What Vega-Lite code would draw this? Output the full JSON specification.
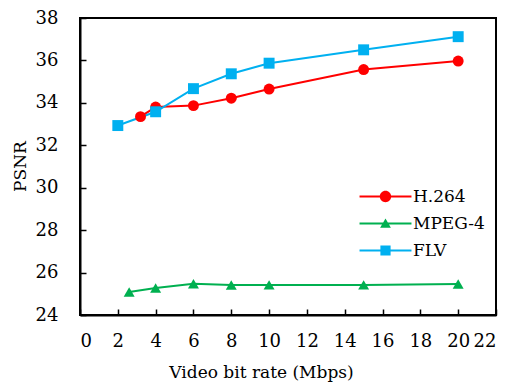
{
  "$schema": "https://vega.github.io/schema/vega-lite/v6.json",
  "width": 416,
  "height": 297,
  "autosize": {"type": "none"},
  "padding": {"left": 80, "top": 18, "right": 11, "bottom": 72},
  "background": "white",
  "config": {
    "font": "DejaVu Serif",
    "view": {"stroke": "black", "strokeWidth": 2},
    "axis": {
      "grid": false,
      "domainColor": "black",
      "domainWidth": 2,
      "tickColor": "black",
      "tickWidth": 1.5,
      "tickSize": -6,
      "labelFont": "DejaVu Serif",
      "labelFontSize": 18,
      "labelColor": "black",
      "titleFont": "DejaVu Serif",
      "titleFontSize": 17,
      "titleColor": "black",
      "titleFontWeight": "normal"
    },
    "legend": {
      "labelFont": "DejaVu Serif",
      "labelFontSize": 17,
      "labelColor": "black",
      "symbolSize": 144,
      "symbolOpacity": 1,
      "symbolStrokeWidth": 0
    }
  },
  "data": {
    "values": [
      {"series": "H.264", "x": 3.2, "y": 33.35},
      {"series": "H.264", "x": 4, "y": 33.8},
      {"series": "H.264", "x": 6, "y": 33.87},
      {"series": "H.264", "x": 8, "y": 34.22},
      {"series": "H.264", "x": 10, "y": 34.65},
      {"series": "H.264", "x": 15, "y": 35.57},
      {"series": "H.264", "x": 20, "y": 35.97},
      {"series": "MPEG-4", "x": 2.6, "y": 25.08},
      {"series": "MPEG-4", "x": 4, "y": 25.27},
      {"series": "MPEG-4", "x": 6, "y": 25.47},
      {"series": "MPEG-4", "x": 8, "y": 25.41},
      {"series": "MPEG-4", "x": 10, "y": 25.42},
      {"series": "MPEG-4", "x": 15, "y": 25.42},
      {"series": "MPEG-4", "x": 20, "y": 25.46},
      {"series": "FLV", "x": 2, "y": 32.93},
      {"series": "FLV", "x": 4, "y": 33.58},
      {"series": "FLV", "x": 6, "y": 34.67},
      {"series": "FLV", "x": 8, "y": 35.37},
      {"series": "FLV", "x": 10, "y": 35.87},
      {"series": "FLV", "x": 15, "y": 36.5},
      {"series": "FLV", "x": 20, "y": 37.12}
    ]
  },
  "encoding": {
    "x": {
      "field": "x",
      "type": "quantitative",
      "scale": {"domain": [0, 22], "nice": false, "zero": false},
      "axis": {
        "values": [0, 2, 4, 6, 8, 10, 12, 14, 16, 18, 20, 22],
        "title": "Video bit rate (Mbps)",
        "labelPadding": 23,
        "titleX": 181,
        "titleY": 57,
        "titleAlign": "center",
        "titleBaseline": "middle"
      }
    },
    "y": {
      "field": "y",
      "type": "quantitative",
      "scale": {"domain": [24, 38], "nice": false, "zero": false},
      "axis": {
        "values": [24, 26, 28, 30, 32, 34, 36, 38],
        "title": "PSNR",
        "labelPadding": 28,
        "titleX": -60,
        "titleY": 148,
        "titleAngle": 270,
        "titleAlign": "center",
        "titleBaseline": "middle"
      }
    },
    "color": {
      "field": "series",
      "type": "nominal",
      "scale": {"domain": ["H.264", "MPEG-4", "FLV"], "range": ["#FF0000", "#00B050", "#00B0F0"]},
      "legend": {
        "title": null,
        "orient": "none",
        "legendX": 297,
        "legendY": 170,
        "padding": 0,
        "labelOffset": 19,
        "rowPadding": 9,
        "encode": {
          "symbols": {
            "update": {
              "shape": {"signal": "datum.value === 'H.264' ? 'M-4.33,-0.17 H4.33 V0.17 H-4.33 Z M0.95,0 A0.95,0.95 0 1,1 -0.95,0 A0.95,0.95 0 1,1 0.95,0 Z' : datum.value === 'MPEG-4' ? 'M-4.33,-0.17 H4.33 V0.17 H-4.33 Z M0,-0.85 L0.9,0.7 L-0.9,0.7 Z' : 'M-4.33,-0.17 H4.33 V0.17 H-4.33 Z M-0.85,-0.85 H0.85 V0.85 H-0.85 Z'"},
              "fill": {"signal": "scale('color', datum.value)"},
              "strokeWidth": {"value": 0},
              "opacity": {"value": 1}
            }
          }
        }
      }
    }
  },
  "layer": [
    {"mark": {"type": "line", "strokeWidth": 2}},
    {
      "mark": {"type": "point", "filled": true, "size": 120, "opacity": 1},
      "encoding": {
        "shape": {
          "field": "series",
          "type": "nominal",
          "scale": {"domain": ["FLV", "H.264", "MPEG-4"], "range": ["square", "circle", "triangle-up"]},
          "legend": null
        }
      }
    }
  ]
}
